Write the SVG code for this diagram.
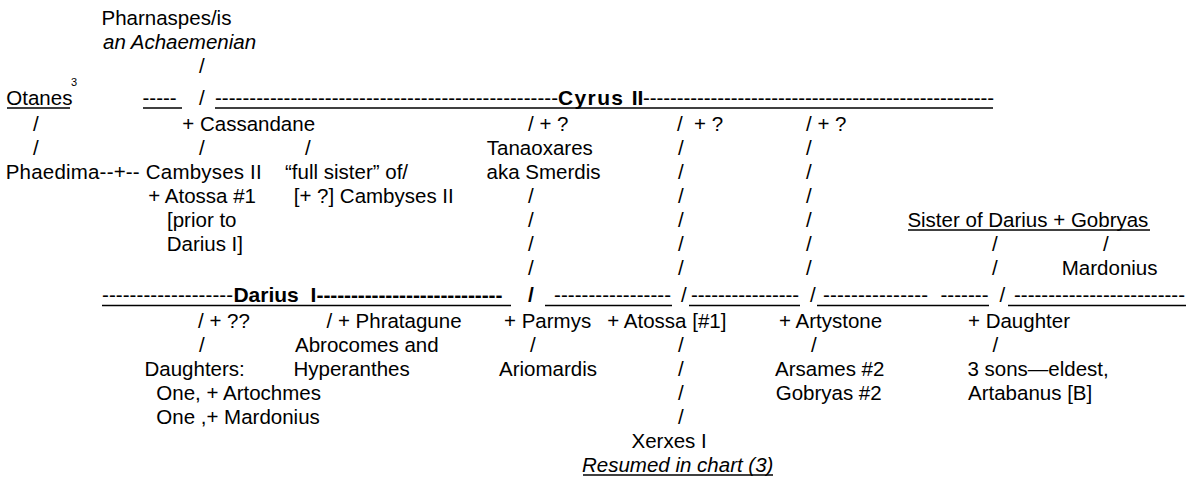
<svg xmlns="http://www.w3.org/2000/svg" width="1186" height="478" viewBox="0 0 1186 478">
<style>
text{font-family:"Liberation Sans",Arial,sans-serif;font-size:20.5px;fill:#000;white-space:pre}
.b{font-weight:bold;font-size:21px}
.i{font-style:italic}
.sup{font-size:11px}
.u{stroke:#000;stroke-width:1.4;fill:none}
</style>
<rect width="1186" height="478" fill="#fff"/>
<g id="connectors">
  <!-- Cyrus row -->
  <text x="199" y="73">/</text>
  <text x="142.5" y="105">-----</text>
  <line class="u" x1="143" y1="108" x2="182" y2="108"/>
  <text x="199" y="105">/</text>
  <text x="215" y="105" textLength="343" lengthAdjust="spacing">--------------------------------------------------</text>
  <text x="643" y="105" textLength="351" lengthAdjust="spacing">----------------------------------------------------</text>
  <line class="u" x1="215" y1="108" x2="993" y2="108"/>
  <!-- left column -->
  <text x="33" y="131">/</text>
  <text x="33" y="155">/</text>
  <text x="199" y="155">/</text>
  <text x="305" y="155">/</text>
  <!-- Tanaoxares column -->
  <text x="528" y="203">/</text>
  <text x="528" y="227">/</text>
  <text x="528" y="251">/</text>
  <text x="528" y="275">/</text>
  <!-- column 678 -->
  <text x="678" y="155">/</text>
  <text x="678" y="179">/</text>
  <text x="678" y="203">/</text>
  <text x="678" y="227">/</text>
  <text x="678" y="251">/</text>
  <text x="678" y="275">/</text>
  <!-- column 806 -->
  <text x="806" y="155">/</text>
  <text x="806" y="179">/</text>
  <text x="806" y="203">/</text>
  <text x="806" y="227">/</text>
  <text x="806" y="251">/</text>
  <text x="806" y="275">/</text>
  <!-- Sister column -->
  <text x="992" y="251">/</text>
  <text x="992" y="275">/</text>
  <text x="1103" y="251">/</text>
  <!-- Darius row -->
  <text x="102" y="302" textLength="131" lengthAdjust="spacing">-------------------</text>
  <text class="b" x="316.5" y="302" textLength="186" lengthAdjust="spacing">---------------------------</text>
  <line class="u" x1="102" y1="305.5" x2="511" y2="305.5"/>
  <text class="b" x="528" y="302">/</text>
  <text x="554" y="302" textLength="117" lengthAdjust="spacing">-----------------</text>
  <line class="u" x1="545" y1="305.5" x2="672" y2="305.5"/>
  <text x="681" y="302">/</text>
  <text x="691" y="302" textLength="108" lengthAdjust="spacing">----------------</text>
  <line class="u" x1="689" y1="305.5" x2="800" y2="305.5"/>
  <text x="810" y="302">/</text>
  <text x="823" y="302" textLength="105" lengthAdjust="spacing">---------------</text>
  <text x="940.5" y="302" textLength="48" lengthAdjust="spacing">-------</text>
  <line class="u" x1="817" y1="305.5" x2="989" y2="305.5"/>
  <text x="999.5" y="302">/</text>
  <text x="1014" y="302" textLength="171" lengthAdjust="spacing">-------------------------</text>
  <line class="u" x1="1008" y1="305.5" x2="1186" y2="305.5"/>
  <!-- below Darius -->
  <text x="199" y="352">/</text>
  <text x="530" y="352">/</text>
  <text x="678" y="352">/</text>
  <text x="811" y="352">/</text>
  <text x="992.5" y="352">/</text>
  <text x="678" y="376">/</text>
  <text x="678" y="400">/</text>
  <text x="678" y="424">/</text>
</g>
<g id="n-pharnaspes">
  <text x="101.5" y="25">Pharnaspes/is</text>
  <text class="i" x="103" y="49">an Achaemenian</text>
</g>
<g id="n-otanes">
  <text x="6.3" y="105">Otanes</text>
  <line class="u" x1="7" y1="108" x2="70" y2="108"/>
  <text class="sup" x="71" y="86">3</text>
</g>
<g id="n-cyrus">
  <text class="b" x="558" y="105" textLength="65" lengthAdjust="spacing">Cyrus</text>
  <text class="b" x="631.7" y="105">II</text>
</g>
<g id="n-cassandane">
  <text x="182.3" y="131">+ Cassandane</text>
</g>
<g id="n-spouse1"><text x="528" y="131">/ + ?</text></g>
<g id="n-spouse2"><text x="677" y="131">/  + ?</text></g>
<g id="n-spouse3"><text x="806" y="131">/ + ?</text></g>
<g id="n-tanaoxares">
  <text x="486.8" y="155">Tanaoxares</text>
  <text x="486.6" y="179">aka Smerdis</text>
</g>
<g id="n-cambyses">
  <text x="5.7" y="179" textLength="256" lengthAdjust="spacing">Phaedima--+-- Cambyses II</text>
  <text x="148.3" y="203">+ Atossa #1</text>
  <text x="167" y="227">[prior to</text>
  <text x="166.7" y="251">Darius I]</text>
</g>
<g id="n-fullsister">
  <text x="285" y="179">“full sister” of/</text>
  <text x="293.7" y="203">[+ ?] Cambyses II</text>
</g>
<g id="n-sisterdarius">
  <text x="907.4" y="227">Sister of Darius + Gobryas</text>
  <line class="u" x1="908" y1="230" x2="1150" y2="230"/>
</g>
<g id="n-mardonius">
  <text x="1061.8" y="275">Mardonius</text>
</g>
<g id="n-darius">
  <text class="b" x="233.4" y="302">Darius  I</text>
</g>
<g id="n-unknown">
  <text x="198" y="328">/ + ??</text>
  <text x="144.5" y="376">Daughters:</text>
  <text x="156.3" y="400">One, + Artochmes</text>
  <text x="156.3" y="424">One ,+ Mardonius</text>
</g>
<g id="n-phratagune">
  <text x="326.5" y="328">/ + Phratagune</text>
  <text x="295" y="352">Abrocomes and</text>
  <text x="293.5" y="376">Hyperanthes</text>
</g>
<g id="n-parmys">
  <text x="504" y="328">+ Parmys</text>
  <text x="499" y="376">Ariomardis</text>
</g>
<g id="n-atossa">
  <text x="607.3" y="328">+ Atossa [#1]</text>
  <text x="631.5" y="448">Xerxes I</text>
  <text class="i" x="582" y="472">Resumed in chart (3)</text>
  <line class="u" x1="583" y1="475" x2="773" y2="475"/>
</g>
<g id="n-artystone">
  <text x="779" y="328">+ Artystone</text>
  <text x="775" y="376">Arsames #2</text>
  <text x="775.7" y="400">Gobryas #2</text>
</g>
<g id="n-daughter">
  <text x="968" y="328">+ Daughter</text>
  <text x="967.4" y="376">3 sons—eldest,</text>
  <text x="968" y="400">Artabanus [B]</text>
</g>
</svg>
